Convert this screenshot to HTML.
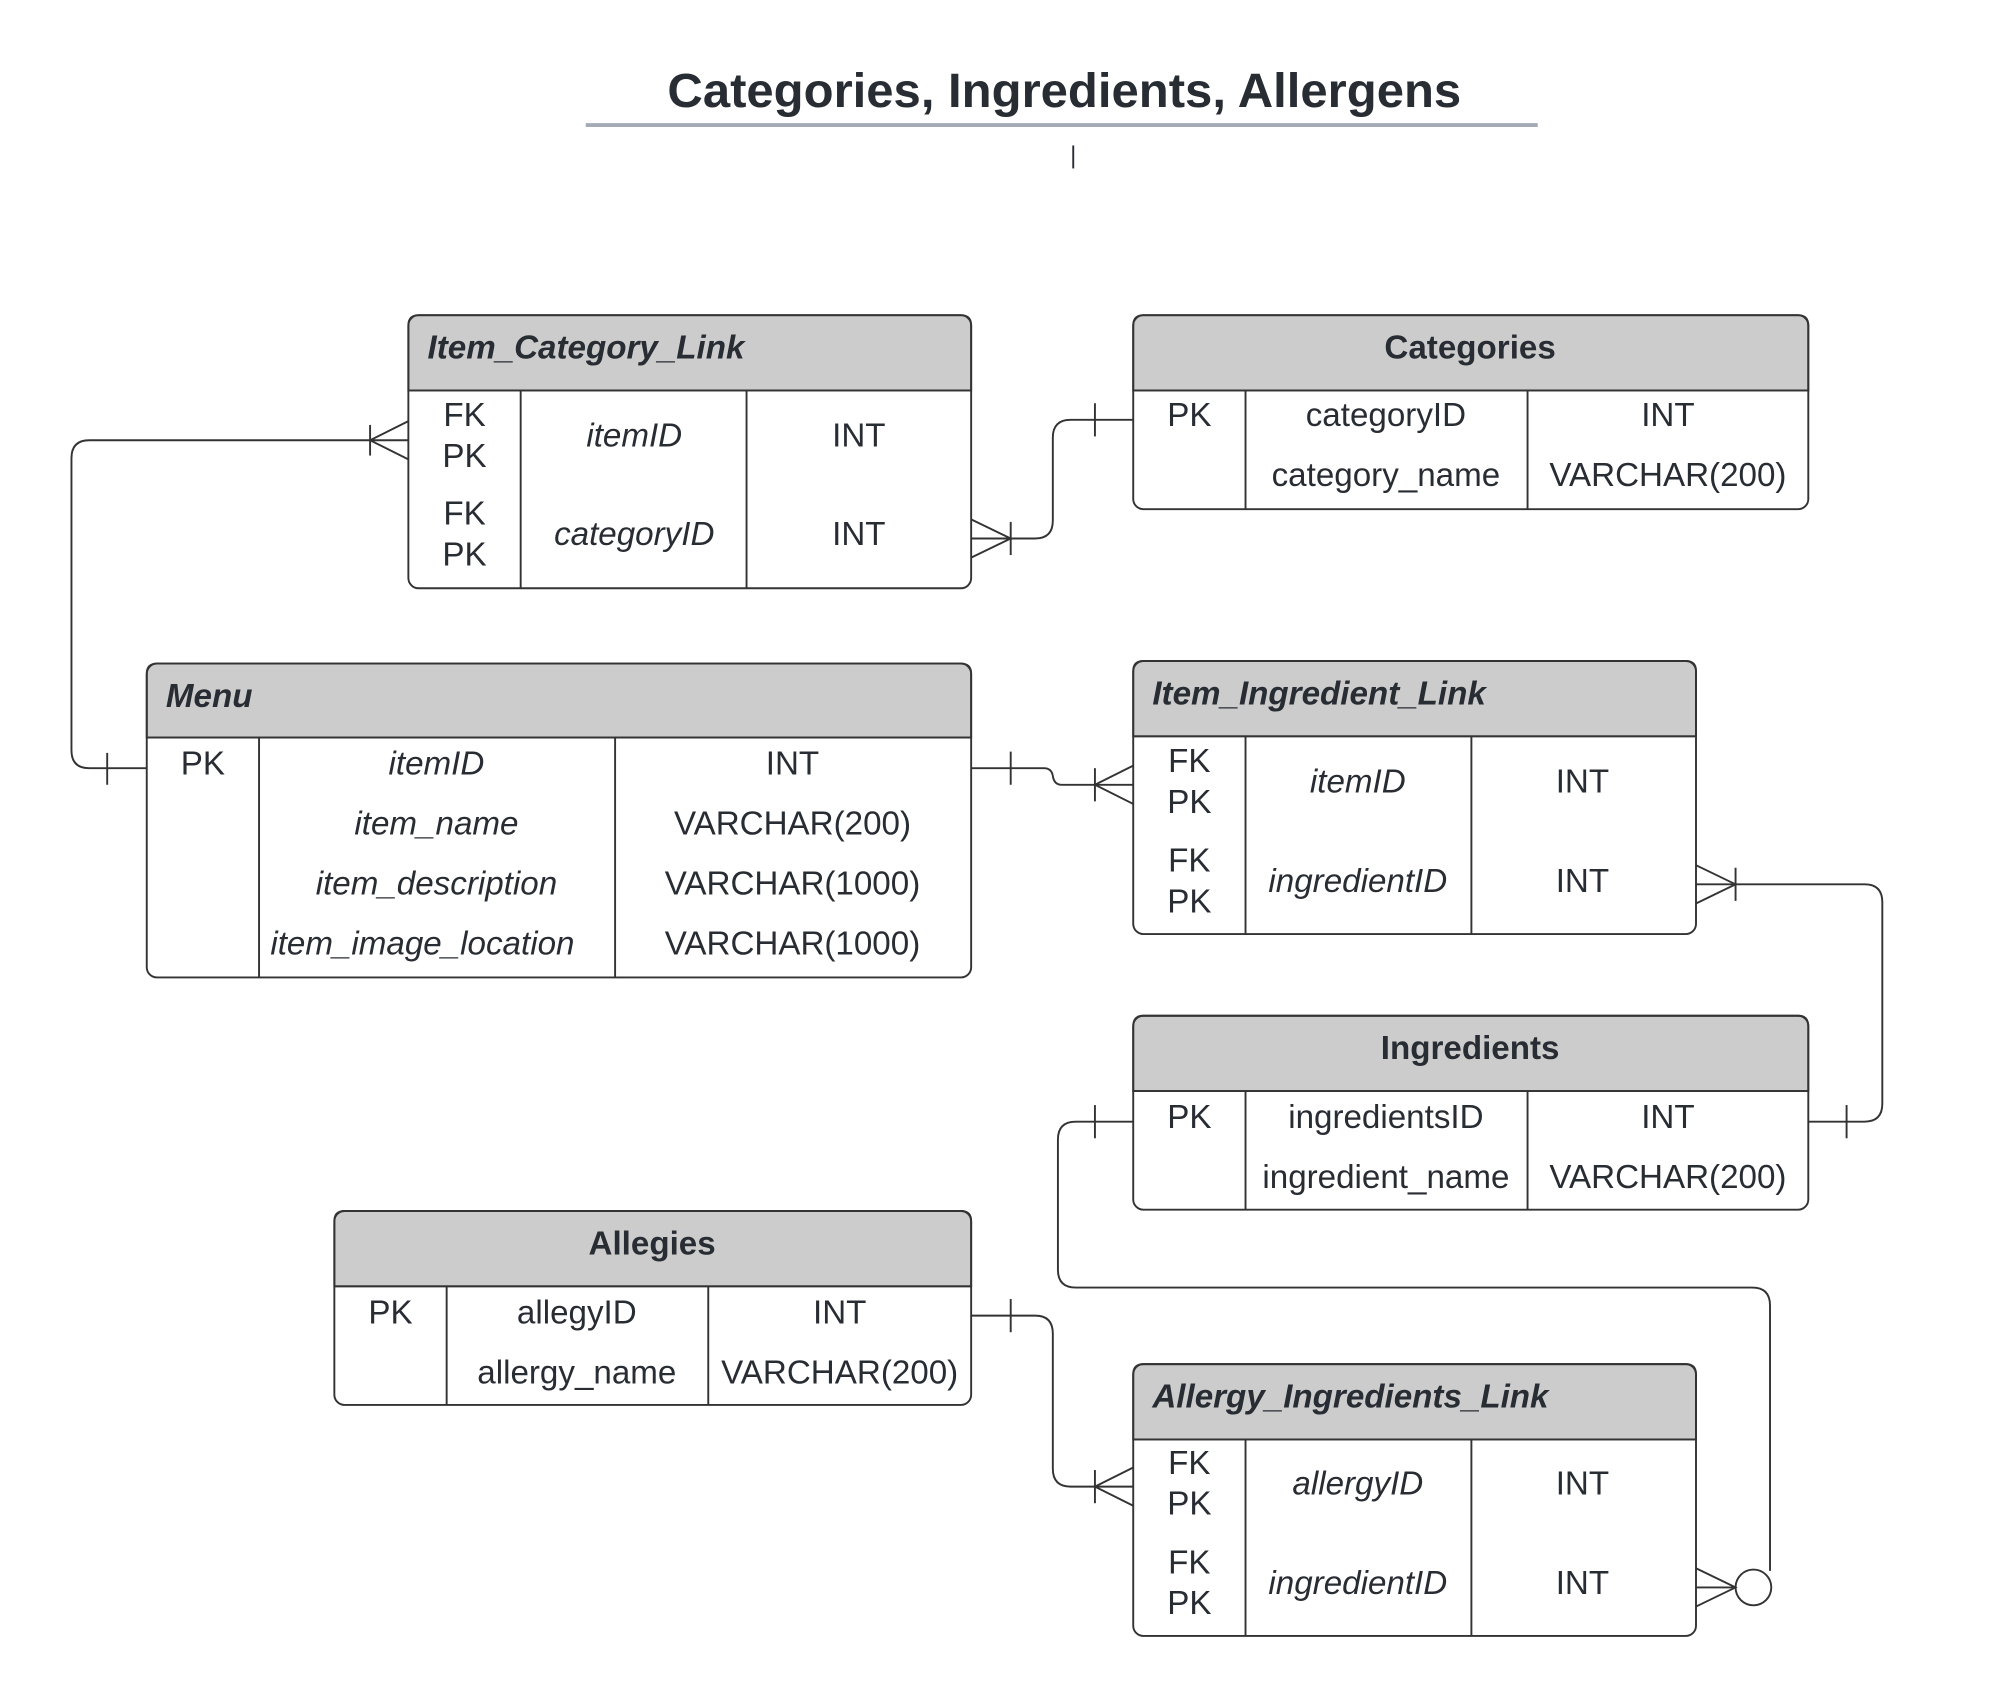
<!DOCTYPE html>
<html><head><meta charset="utf-8"><style>
html,body{margin:0;padding:0;background:#fff;}
svg{display:block;}
text{font-family:"Liberation Sans",sans-serif;fill:#282c33;}
.b{font-size:26px;}
.h{font-size:26px;font-weight:bold;}
.it{font-style:italic;}
</style></head><body>
<svg width="2001" height="1701" viewBox="0 0 1568 1333" preserveAspectRatio="none" xmlns="http://www.w3.org/2000/svg">
<text x="834" y="84" text-anchor="middle" style="font-size:38px;font-weight:bold" textLength="622" lengthAdjust="spacingAndGlyphs">Categories, Ingredients, Allergens</text>
<line x1="459" y1="98" x2="1205" y2="98" stroke="#a5abb5" stroke-width="3"/>
<line x1="841" y1="114" x2="841" y2="132" stroke="#282c33" stroke-width="1.5"/>

<g fill="none" stroke="#333" stroke-width="1.5">
<path d="M328 247 H753 Q761 247 761 255 V306 H320 V255 Q320 247 328 247Z" fill="#ccc"/>
<rect x="320" y="247" width="441" height="214" rx="8"/>
<line x1="320" y1="306" x2="761" y2="306"/><line x1="408" y1="306" x2="408" y2="461"/><line x1="585" y1="306" x2="585" y2="461"/>
<path d="M896 247 H1409 Q1417 247 1417 255 V306 H888 V255 Q888 247 896 247Z" fill="#ccc"/>
<rect x="888" y="247" width="529" height="152" rx="8"/>
<line x1="888" y1="306" x2="1417" y2="306"/><line x1="976" y1="306" x2="976" y2="399"/><line x1="1197" y1="306" x2="1197" y2="399"/>
<path d="M123 520 H753 Q761 520 761 528 V578 H115 V528 Q115 520 123 520Z" fill="#ccc"/>
<rect x="115" y="520" width="646" height="246" rx="8"/>
<line x1="115" y1="578" x2="761" y2="578"/><line x1="203" y1="578" x2="203" y2="766"/><line x1="482" y1="578" x2="482" y2="766"/>
<path d="M896 518 H1321 Q1329 518 1329 526 V577 H888 V526 Q888 518 896 518Z" fill="#ccc"/>
<rect x="888" y="518" width="441" height="214" rx="8"/>
<line x1="888" y1="577" x2="1329" y2="577"/><line x1="976" y1="577" x2="976" y2="732"/><line x1="1153" y1="577" x2="1153" y2="732"/>
<path d="M896 796 H1409 Q1417 796 1417 804 V855 H888 V804 Q888 796 896 796Z" fill="#ccc"/>
<rect x="888" y="796" width="529" height="152" rx="8"/>
<line x1="888" y1="855" x2="1417" y2="855"/><line x1="976" y1="855" x2="976" y2="948"/><line x1="1197" y1="855" x2="1197" y2="948"/>
<path d="M270 949 H753 Q761 949 761 957 V1008 H262 V957 Q262 949 270 949Z" fill="#ccc"/>
<rect x="262" y="949" width="499" height="152" rx="8"/>
<line x1="262" y1="1008" x2="761" y2="1008"/><line x1="350" y1="1008" x2="350" y2="1101"/><line x1="555" y1="1008" x2="555" y2="1101"/>
<path d="M896 1069 H1321 Q1329 1069 1329 1077 V1128 H888 V1077 Q888 1069 896 1069Z" fill="#ccc"/>
<rect x="888" y="1069" width="441" height="213" rx="8"/>
<line x1="888" y1="1128" x2="1329" y2="1128"/><line x1="976" y1="1128" x2="976" y2="1282"/><line x1="1153" y1="1128" x2="1153" y2="1282"/>

<path d="M115 602 H70 Q56 602 56 588 V359 Q56 345 70 345 H320"/>
<line x1="84" y1="590" x2="84" y2="615"/>
<path d="M320 330 L290 345 L320 360"/><line x1="290" y1="333" x2="290" y2="357"/>

<path d="M888 329 H839 Q825 329 825 343 V408 Q825 422 811 422 H761"/>
<line x1="858" y1="316" x2="858" y2="342"/>
<path d="M761 407 L792 422 L761 437"/><line x1="792" y1="409" x2="792" y2="435"/>

<path d="M761 602 H818 Q824 602 825 608 Q826 615 832 615 H888"/>
<line x1="792" y1="589" x2="792" y2="615"/>
<path d="M888 600 L858 615 L888 630"/><line x1="858" y1="602" x2="858" y2="628"/>

<path d="M1329 693 H1461 Q1475 693 1475 707 V865 Q1475 879 1461 879 H1417"/>
<path d="M1329 678 L1360 693 L1329 708"/><line x1="1360" y1="680" x2="1360" y2="706"/>
<line x1="1447" y1="866" x2="1447" y2="892"/>

<path d="M888 879 H843 Q829 879 829 893 V995 Q829 1009 843 1009 H1373 Q1387 1009 1387 1023 V1231"/>
<line x1="858" y1="866" x2="858" y2="892"/>
<circle cx="1374" cy="1244" r="14" fill="#fff"/>
<path d="M1329 1229 L1360 1244 L1329 1259"/><line x1="1329" y1="1244" x2="1360" y2="1244"/>

<path d="M761 1031 H811 Q825 1031 825 1045 V1151 Q825 1165 839 1165 H888"/>
<line x1="792" y1="1018" x2="792" y2="1044"/>
<path d="M888 1150 L858 1165 L888 1180"/><line x1="858" y1="1152" x2="858" y2="1178"/>
</g>

<text x="335" y="281" class="h it">Item_Category_Link</text>
<text x="364" y="334" class="b" text-anchor="middle">FK</text>
<text x="364" y="366" class="b" text-anchor="middle">PK</text>
<text x="364" y="411" class="b" text-anchor="middle">FK</text>
<text x="364" y="443" class="b" text-anchor="middle">PK</text>
<text x="497" y="350" class="b it" text-anchor="middle">itemID</text>
<text x="497" y="427" class="b it" text-anchor="middle">categoryID</text>
<text x="673" y="350" class="b" text-anchor="middle">INT</text>
<text x="673" y="427" class="b" text-anchor="middle">INT</text>

<text x="1152" y="281" class="h" text-anchor="middle">Categories</text>
<text x="932" y="334" class="b" text-anchor="middle">PK</text>
<text x="1086" y="334" class="b" text-anchor="middle">categoryID</text>
<text x="1086" y="381" class="b" text-anchor="middle">category_name</text>
<text x="1307" y="334" class="b" text-anchor="middle">INT</text>
<text x="1307" y="381" class="b" text-anchor="middle">VARCHAR(200)</text>

<text x="130" y="554" class="h it">Menu</text>
<text x="159" y="607" class="b" text-anchor="middle">PK</text>
<text x="342" y="607" class="b it" text-anchor="middle">itemID</text>
<text x="342" y="654" class="b it" text-anchor="middle">item_name</text>
<text x="342" y="701" class="b it" text-anchor="middle">item_description</text>
<text x="331" y="748" class="b it" text-anchor="middle">item_image_location</text>
<text x="621" y="607" class="b" text-anchor="middle">INT</text>
<text x="621" y="654" class="b" text-anchor="middle">VARCHAR(200)</text>
<text x="621" y="701" class="b" text-anchor="middle">VARCHAR(1000)</text>
<text x="621" y="748" class="b" text-anchor="middle">VARCHAR(1000)</text>

<text x="903" y="552" class="h it">Item_Ingredient_Link</text>
<text x="932" y="605" class="b" text-anchor="middle">FK</text>
<text x="932" y="637" class="b" text-anchor="middle">PK</text>
<text x="932" y="683" class="b" text-anchor="middle">FK</text>
<text x="932" y="715" class="b" text-anchor="middle">PK</text>
<text x="1064" y="621" class="b it" text-anchor="middle">itemID</text>
<text x="1064" y="699" class="b it" text-anchor="middle">ingredientID</text>
<text x="1240" y="621" class="b" text-anchor="middle">INT</text>
<text x="1240" y="699" class="b" text-anchor="middle">INT</text>

<text x="1152" y="830" class="h" text-anchor="middle">Ingredients</text>
<text x="932" y="884" class="b" text-anchor="middle">PK</text>
<text x="1086" y="884" class="b" text-anchor="middle">ingredientsID</text>
<text x="1086" y="931" class="b" text-anchor="middle">ingredient_name</text>
<text x="1307" y="884" class="b" text-anchor="middle">INT</text>
<text x="1307" y="931" class="b" text-anchor="middle">VARCHAR(200)</text>

<text x="511" y="983" class="h" text-anchor="middle">Allegies</text>
<text x="306" y="1037" class="b" text-anchor="middle">PK</text>
<text x="452" y="1037" class="b" text-anchor="middle">allegyID</text>
<text x="452" y="1084" class="b" text-anchor="middle">allergy_name</text>
<text x="658" y="1037" class="b" text-anchor="middle">INT</text>
<text x="658" y="1084" class="b" text-anchor="middle">VARCHAR(200)</text>

<text x="903" y="1103" class="h it">Allergy_Ingredients_Link</text>
<text x="932" y="1155" class="b" text-anchor="middle">FK</text>
<text x="932" y="1187" class="b" text-anchor="middle">PK</text>
<text x="932" y="1233" class="b" text-anchor="middle">FK</text>
<text x="932" y="1265" class="b" text-anchor="middle">PK</text>
<text x="1064" y="1171" class="b it" text-anchor="middle">allergyID</text>
<text x="1064" y="1249" class="b it" text-anchor="middle">ingredientID</text>
<text x="1240" y="1171" class="b" text-anchor="middle">INT</text>
<text x="1240" y="1249" class="b" text-anchor="middle">INT</text>
</svg>
</body></html>
